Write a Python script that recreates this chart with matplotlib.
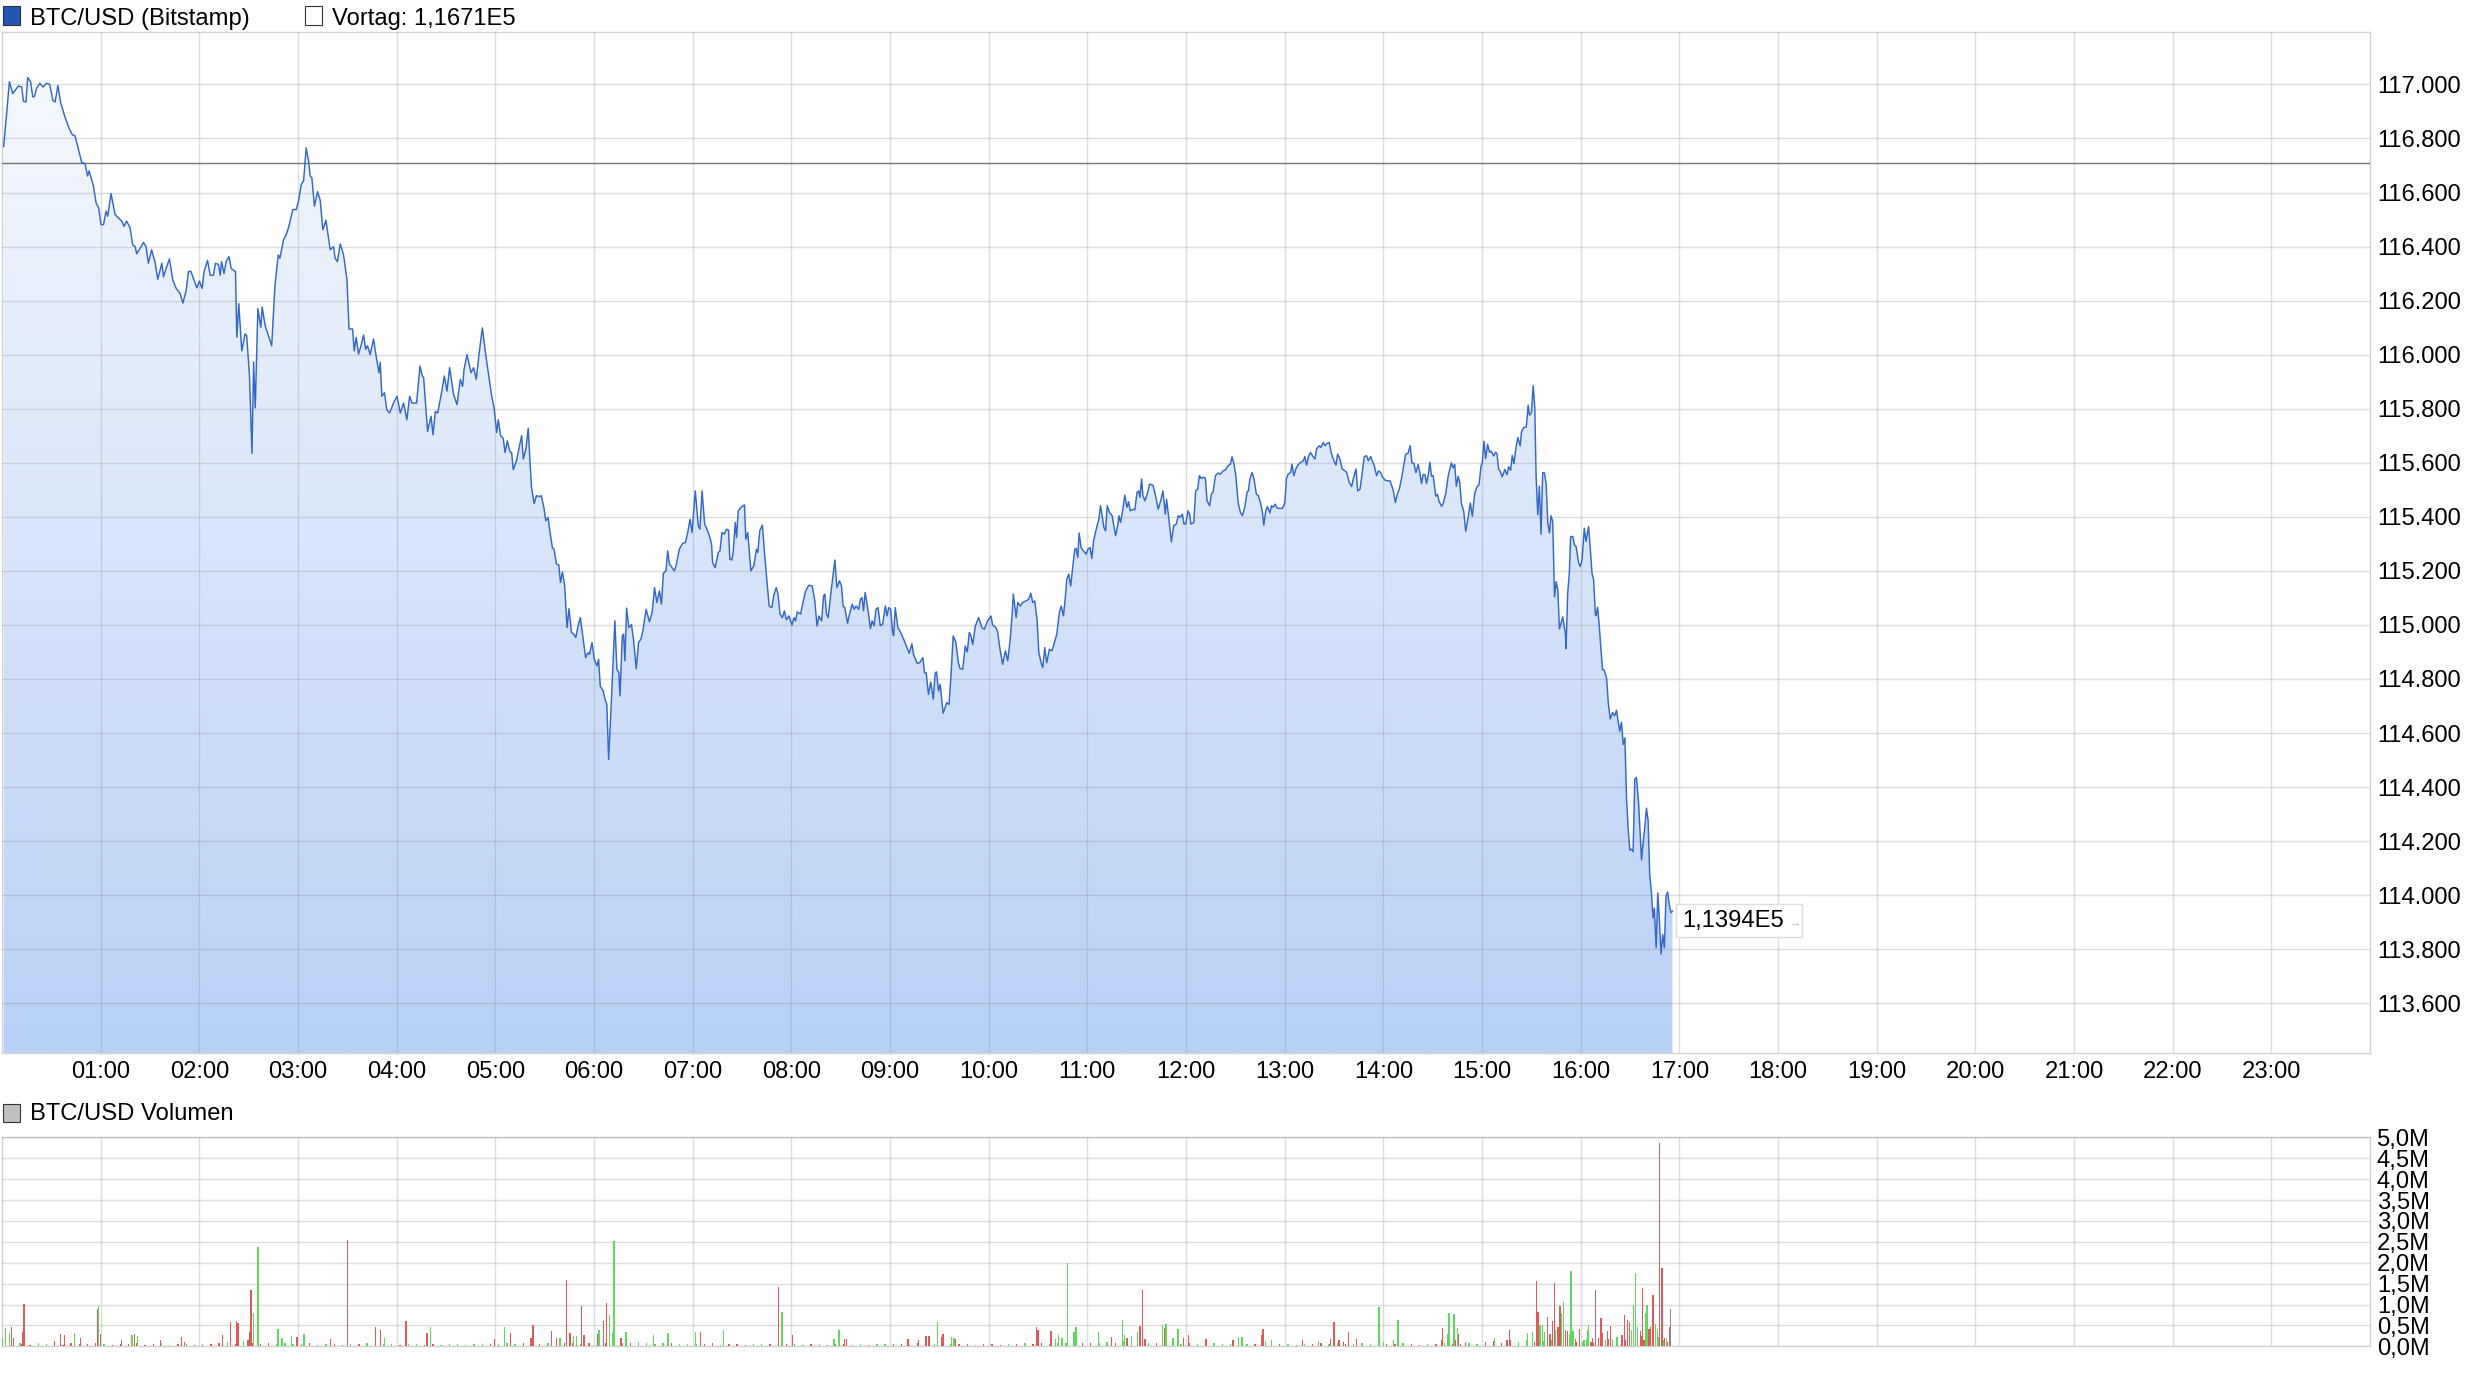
import numpy as np
import matplotlib
matplotlib.use("Agg")
import matplotlib.pyplot as plt
from matplotlib.patches import Rectangle, Polygon
from matplotlib.colors import LinearSegmentedColormap

plt.rcParams['font.family'] = ['Liberation Sans', 'DejaVu Sans']

# ---------------- data ----------------
title_price = "BTC/USD (Bitstamp)"
title_prev = "Vortag: 1,1671E5"
title_volume = "BTC/USD Volumen"
prev_close = 116710
last_label = "1,1394E5"

hour_ticks = list(range(60, 1440, 60))
hour_labels = ["%02d:00" % h for h in range(1, 24)]
price_ticks = list(range(113600, 117001, 200))
volume_ticks = [0.0, 0.5, 1.0, 1.5, 2.0, 2.5, 3.0, 3.5, 4.0, 4.5, 5.0]

# minutes after midnight
price_time = [
1,3,4.5,6.5,10,12,13,14.6,15.6,17.4,18.7,19.7,21,23,25,27,29,31,32.3,34,35.7,38.3,40.8,42.8,44.4,46.4,48.5,50.5,52,53,
55.6,57.2,58.8,60.2,61.7,63.3,64.3,66.3,68.8,70.8,72.8,74.2,75.8,77.9,79.5,81,81.9,84,86,87.6,89,91,93,94.7,97.2,98.2,99.8,101.8,103.9,105.9,
108.3,110,112,113.4,114.8,116.4,118.5,120,121.7,122.9,125,126.6,128.6,129.8,131.6,132.7,133.5,135,136.3,138,139.4,142,142.8,144,145.8,147.8,148.8,150.5,152,153,
154,155.6,157.4,158.2,160,162,164,166,168,169,171.2,172.8,174.2,176.9,178.9,180.3,182,183.4,185,186.4,187.4,188.4,190,191.9,193.5,195.1,197,199.6,201.6,202.6,
204,205.7,207.7,209.8,211,213.2,214.2,215.4,216.8,218.3,219.9,221.1,222.3,223.9,225.9,227.5,229.2,230,231,232.6,234,235.7,238.1,240.2,242.2,244.2,246.2,247.9,249.3,252.1,
254.2,255.6,256.4,258.8,260.9,262.1,263.5,264.9,266.9,269,270.6,272.2,274.6,276.7,278.7,280.1,281,282.8,285.2,286.8,288.4,290.1,292.1,294.1,296,297.8,299.2,300.8,301.8,303.2,
304.8,305.9,307.3,308.9,309.9,310.9,312.9,314.5,316,317,318.6,320,321,322,323.6,325,327,328,329.5,330.7,332.1,333.1,334.7,335.7,337.2,338.6,339.6,340.8,342.2,343.6,
344.8,346.3,347.7,348.9,350.3,351.7,353.3,354.9,356.3,357.3,358.8,360.2,361.8,362.8,363.8,365.5,367,367.8,368.9,370.7,372.7,373.9,375.1,375.8,377.2,378,378.8,379.8,381.2,382.8,
384,385.7,387.1,388.5,389.7,391.7,393.7,395.4,396.8,398.2,399.8,401,402.2,403.8,404.8,405.9,407.5,408.9,409.9,411.9,413.9,415.6,417,418.4,419.6,421.6,423.4,424.4,425.7,427.3,
430.1,431.5,432.1,433.7,435.6,436.6,437.8,439.2,440.6,441.8,442.6,443.8,444.6,445.9,446.7,447.7,449.3,451.5,452.3,453.5,455.4,457.2,458.8,459.6,460.8,462.4,464,465.4,466.5,468.1,
469.5,470.9,471.9,473.1,474.5,475.8,477,478.6,480.4,481.6,482.6,483.6,485.6,487.1,488.7,490.7,492.7,494.3,495.6,496.8,498.4,499.6,500.4,501.4,502.4,504.2,506.5,507.7,509.3,510.5,
511.5,512.5,514.2,515.4,517,518.2,519.4,521,522,523,523.9,524.9,526.7,528.1,529.1,530.3,531.5,532.7,534.1,535.5,537.2,538.2,539.2,540.4,541.6,542.2,543.2,544.8,546.5,548.3,
550.3,551.7,553.3,554.3,556.5,558,560,561,562,563.4,564.8,566.3,567.5,568.3,569.5,570.5,572.3,574.5,575.9,577.2,578.4,580,581.6,582.6,584.2,585.8,587,588.2,589.2,590.3,
591.9,593.9,595.9,597.3,599.4,601.4,602.4,604.5,605.5,606.9,608.5,610.2,611.6,613,614.2,615,616.7,617.7,619.3,620.7,622.7,624.4,625.6,626.8,628,629.4,630.5,631.9,632.9,634.1,
635.3,636.9,638.5,640,641.4,643,644.1,645.5,646.7,647.5,648.7,649.9,651.2,652.4,653.2,654.2,655,656.2,657.6,659.3,660.3,661.7,662.7,663.8,665.4,667,668,669,670.1,671.1,
672.1,673.5,675.1,676.1,677.2,678.6,679.2,680.2,681.6,682.8,684.1,685.1,686.1,687.7,688.9,690.2,691.2,692,693,693.8,695,696.4,697.9,699.9,701.5,703.1,704.6,706,707.4,708.2,
709.6,711.1,712.5,714.1,715.3,716.5,717.8,718.8,719.8,721.2,722.2,723,724.7,725.9,727.1,728.1,729.3,730.4,731.8,732.8,734.4,735.4,736.4,737.9,739.5,740.9,742.5,743.9,745.6,747,
748,749.2,750.3,751.7,753.1,754.3,755.7,757.2,758,758.8,760.2,761.4,762.8,764,765.5,766.5,767.3,768.5,769.5,771,772,773,774.2,775.4,777,778.7,780.1,781.1,782.1,783.6,
784.4,785.6,786.8,788.2,789.6,791.3,792.3,793.3,794.5,795.7,796.9,798.4,799.4,801,802,803.5,804.5,805.9,807.1,808.5,810,811.2,812.2,813.6,815,816.7,817.7,819.3,820.7,821.7,
823.4,824.4,825.8,827,828.4,829.8,830.9,832.3,833.5,834.5,835.9,837.1,838.4,839.6,841,842.6,844.1,845.1,846.1,847.3,848.5,849.7,851.2,852.2,853.6,855,856.3,857.4,858.6,859.8,
861.2,862.2,863.2,864.2,865.3,866.3,867.5,868.3,869.3,870.3,871.9,872.9,873.9,875.4,876.4,878,879.4,881.4,882.4,883.4,884.4,885.5,886.5,887.5,888.9,890.1,891.5,892.9,894.1,895.6,
897,898.2,899.4,900.2,901.2,902.2,903.4,904.6,905.6,907.1,908.3,909.1,910.1,911.1,912.3,913.9,915.2,916.2,917.4,918.4,919.4,920.8,921.8,923.2,924,925.3,926.9,928.1,928.9,930.1,
931.1,932.1,932.9,933.9,934.9,935.9,936.9,937.9,939,940,941,942,943,944.1,945.1,946.1,947.1,949.1,950.7,951.1,952.1,953.1,953.9,955.2,956.2,957.2,958.8,959.8,960.8,962.2,
963.2,964.8,965.9,966.9,967.9,968.9,969.3,970.3,971.3,972.3,973.3,974.3,975.8,976.8,978,979.4,980.6,981.8,982.8,983.8,984.8,985.9,986.9,987.9,988.9,989.9,990.9,991.9,992.9,993.9,
995.2,996,997,998,999,1000,1001,1002,1003,1004,1004.8,1005.9,1006.9,1007.9,1008.9,1009.9,1010.9,1011.9,1012.9,1013.9,1014.9,1015.8]

price_usd = [
116770,116904,117010,116966,116994,116990,116938,116935,117025,117010,116954,116955,116985,117004,116990,117004,117000,116940,116935,116996,116932,116879,116838,116813,116810,116761,116711,116707,116661,116680,
116624,116562,116543,116481,116481,116531,116512,116596,116518,116506,116494,116475,116494,116469,116406,116400,116373,116394,116415,116400,116338,116388,116344,116279,116338,116288,116319,116354,116276,116245,
116226,116191,116238,116307,116309,116282,116247,116272,116245,116307,116349,116294,116294,116338,116334,116294,116344,116300,116344,116363,116319,116307,116064,116189,116014,116077,116070,115921,115635,115973,
115803,116170,116101,116176,116108,116070,116033,116257,116369,116357,116425,116444,116469,116537,116537,116568,116630,116643,116765,116718,116661,116655,116549,116603,116571,116462,116497,116388,116400,116357,
116344,116410,116369,116276,116095,116095,116014,116064,116002,116033,116073,116020,116033,116000,116058,115996,115933,115971,115846,115859,115796,115784,115821,115846,115784,115821,115759,115846,115821,115821,
115958,115921,115915,115716,115772,115703,115790,115784,115846,115921,115865,115952,115853,115815,115908,115883,115946,116000,115933,115952,115908,116002,116099,116002,115921,115846,115805,115712,115759,115700,
115690,115638,115681,115640,115638,115574,115608,115657,115700,115614,115651,115728,115614,115509,115449,115478,115475,115478,115435,115385,115398,115348,115286,115280,115225,115222,115157,115196,115144,114990,
115060,114972,114966,114953,114996,115027,114953,114879,114897,114891,114935,114873,114848,114873,114774,114756,114719,114707,114502,114737,115015,114836,114824,114737,114960,114966,114867,115062,114990,115001,
114947,114838,114935,114947,114978,115058,115011,115048,115138,115083,115126,115077,115191,115200,115274,115225,115212,115200,115219,115280,115302,115305,115342,115391,115342,115496,115367,115354,115496,115373,
115332,115299,115231,115212,115268,115274,115342,115336,115354,115351,115243,115240,115268,115379,115323,115422,115435,115444,115317,115342,115200,115219,115280,115268,115348,115369,115243,115144,115070,115064,
115114,115138,115114,115040,115027,115052,115019,115033,114999,115027,115015,115048,115040,115083,115126,115147,115144,115089,114996,115033,115015,115107,115114,115040,115027,115126,115240,115138,115163,115144,
115070,115064,115006,115040,115077,115058,115070,115058,115095,115101,115052,115120,115052,114986,115015,114997,115058,115064,114997,115003,115070,115033,115064,115058,114972,114960,115064,114990,114972,114947,
114916,114895,114930,114891,114858,114860,114879,114823,114823,114743,114789,114725,114823,114826,114756,114780,114673,114712,114706,114823,114959,114936,114860,114838,114836,114922,114900,114972,114960,114928,
114996,115027,114990,114984,115015,115033,115000,114990,114972,114910,114854,114904,114867,114941,115033,115114,115027,115083,115070,115083,115089,115095,115117,115083,115089,115021,114898,114860,114842,114916,
114860,114910,114904,114935,114965,115046,115070,115033,115107,115169,115188,115144,115218,115280,115283,115249,115340,115286,115274,115262,115280,115286,115246,115311,115354,115391,115441,115404,115360,115348,
115441,115416,115404,115367,115330,115373,115404,115379,115428,115480,115435,115456,115422,115428,115426,115490,115496,115472,115540,115478,115459,115484,115521,115517,115478,115428,115459,115496,115410,115465,
115391,115307,115367,115373,115404,115398,115410,115373,115373,115422,115410,115373,115379,115496,115502,115552,115542,115546,115543,115459,115441,115484,115490,115552,115562,115558,115570,115573,115589,115595,
115622,115595,115552,115453,115416,115404,115435,115493,115496,115539,115564,115539,115484,115478,115447,115416,115369,115422,115438,115414,115441,115435,115447,115432,115431,115431,115453,115542,115558,115564,
115595,115552,115577,115593,115601,115607,115623,115591,115623,115638,115626,115614,115651,115663,115657,115675,115663,115672,115675,115632,115607,115591,115632,115614,115577,115570,115564,115527,115512,115539,
115577,115496,115502,115554,115623,115626,115607,115623,115604,115589,115552,115570,115564,115546,115536,115533,115533,115515,115496,115453,115484,115502,115546,115583,115632,115635,115663,115600,115598,115563,
115594,115563,115523,115556,115556,115523,115562,115602,115550,115553,115476,115483,115457,115439,115449,115488,115550,115600,115581,115594,115513,115550,115525,115449,115420,115346,115395,115451,115402,115488,
115511,115519,115587,115600,115680,115615,115668,115639,115643,115625,115639,115634,115577,115568,115548,115575,115556,115585,115572,115627,115597,115662,115693,115662,115714,115730,115732,115813,115776,115786,
115885,115804,115550,115408,115513,115336,115563,115563,115523,115377,115340,115404,115383,115104,115160,115129,114985,115030,114968,114912,115117,115191,115327,115327,115296,115290,115228,115216,115240,115358,
115309,115364,115278,115191,115166,115042,115034,115065,114998,114912,114835,114833,114802,114710,114652,114676,114664,114684,114643,114607,114640,114558,114582,114356,114246,114167,114170,114161,114429,114436,
114344,114246,114130,114197,114252,114322,114277,114075,114014,113916,113951,113806,114008,113904,113782,113855,113806,113996,114012,113965,113935,113941]

# volume: larger bars (minute, millions, direction u=up d=down n=neutral)
vol_time = [0.5,2.3,4.7,5.8,7,11,12.6,13.4,32,35.7,37.8,44,47.6,58,58.8,59.8,72.7,79,80.7,82.5,96.4,109,111,134,139,142.4,143.5,149.5,150.8,151.5,
152.9,155.7,167.9,170.3,175.9,179.4,183.6,199.6,210,227.2,230.3,232.5,245.6,258.5,260.6,299.7,305.6,309.1,321.6,323,334.2,337,339.4,343.3,345.4,347.5,349.2,352.3,354,362,
363.1,365.9,367.7,369.4,371.2,372.2,376.4,379.5,396.3,405,421.7,424.9,438.8,472.3,474.4,480.6,506,508.9,512.3,513.4,
550.9,557.5,561.8,563.7,569,571.6,572.3,577.6,578.9,579.9,629,630,637.9,640.5,642.5,644.5,648.1,651.8,653.1,666.9,674.9,681.4,682.4,684.1,686.7,690.7,692,693.6,695,705.8,
707.2,707.8,712.1,715.1,718.4,721.7,732.2,748.6,752,754,766.2,766.8,768.5,772.1,790.9,800.5,808,810,813,815.6,818.9,823.5,837.4,840,846,848.9,875.7,876,879.3,879.9,
882.9,884,885.2,885.8,890.1,907.6,915.2,916.9,927.7,930.7,933.3,934,935.3,936.6,937.9,939.9,941.3,942.9,944.2,944.9,946.2,947.5,948.5,949.5,950.8,951.8,953.1,954.1,955.4,957.4,
959.1,961.4,963.4,964.3,964.9,966.2,967.5,969,971,972.3,973,975.2,976.2,978.1,979.5,982.4,985.1,986.7,988.3,989.9,990.9,992.3,993.3,994.6,996.3,997.6,998.6,999.3,1000.3,1001.6,
1002.6,1003.9,1005.3,1006.6,1007.9,1009.5,1010.2,1010.8,1012.8,1014.4,1014.8]
vol_mio = [0.19,0.43,0.31,0.45,0.2,0.09,0.35,1.01,0.13,0.3,0.26,0.33,0.21,0.9,0.96,0.3,0.15,0.27,0.3,0.25,0.15,0.22,0.11,0.27,0.59,0.61,0.55,0.15,0.35,1.35,
0.8,2.38,0.41,0.19,0.25,0.23,0.3,0.18,2.54,0.47,0.39,0.2,0.61,0.33,0.46,0.18,0.47,0.33,0.2,0.51,0.37,0.21,0.21,1.59,0.31,0.25,0.25,0.96,0.27,0.3,
0.39,0.61,1.04,0.75,0.31,2.52,0.19,0.35,0.27,0.33,0.35,0.35,0.39,1.43,0.83,0.26,0.18,0.39,0.17,0.18,
0.18,0.14,0.25,0.25,0.58,0.23,0.3,0.23,0.19,0.17,0.47,0.39,0.37,0.17,0.27,0.2,2.0,0.35,0.45,0.35,0.22,0.63,0.28,0.2,0.25,0.34,0.49,1.35,0.18,0.51,
0.44,0.53,0.2,0.41,0.19,0.27,0.18,0.14,0.22,0.23,0.27,0.41,0.12,0.15,0.15,0.13,0.17,0.58,0.15,0.1,0.34,0.17,0.94,0.1,0.15,0.63,0.15,0.44,0.3,0.8,
0.77,0.15,0.44,0.3,0.1,0.2,0.14,0.39,0.32,0.35,1.57,0.83,0.51,0.51,0.35,0.7,0.3,0.61,1.52,0.4,0.47,0.96,0.8,1.06,0.39,0.37,0.3,1.8,0.37,0.11,
0.41,0.11,0.18,0.39,0.51,0.1,0.07,1.35,0.2,0.68,0.33,0.14,0.37,0.49,0.17,0.09,0.27,0.75,0.63,0.59,0.39,0.99,1.75,0.45,0.37,1.4,0.14,0.79,0.99,0.41,
0.47,1.23,0.53,0.39,4.87,1.87,0.15,0.19,0.11,0.45,0.89]
vol_dir = list(
    "uuuddudddddudduddudu" "dddddddddd"
    "uuuuudu" "dddd" "u" "dd" "u" "d" "u" "ddddd" "u" "dd" "uu" "ddd"
    "u" "dd" "uuu" "d" "uuuu" "d" "u" "d" "u" "d" "uu" "dd"
    "ddddudduuddddu" "uuuuuuduuduudddu"
    "duuuddddu" "uddu" "udu" "dddddd" "uuuu" "dd" "uu"
    "udud" "dudduudduuudddd" "udduudduuud"
    "duuuudddddd" "udduu" "dddd" "uuuu" "dddu" "ud"
    "dduuddud" "ddn")

# small background volume, one reading every 5 minutes from 00:02
grass_time = list(range(2, 1016, 5))
grass_mio = [
0.06,0.1,0.05,0.04,0.08,0.05,0.06,0.04,0.07,0.05,0.06,0.08,
0.05,0.04,0.06,0.05,0.09,0.04,0.05,0.07,0.04,0.06,0.05,0.04,
0.06,0.05,0.08,0.1,0.06,0.12,0.07,0.05,0.09,0.06,0.08,0.05,
0.05,0.07,0.04,0.06,0.05,0.04,0.06,0.05,0.07,0.04,0.05,0.06,
0.04,0.05,0.06,0.04,0.05,0.04,0.06,0.05,0.04,0.05,0.06,0.05,
0.06,0.08,0.05,0.07,0.1,0.06,0.08,0.05,0.09,0.07,0.06,0.08,
0.1,0.08,0.12,0.09,0.07,0.1,0.08,0.06,0.09,0.07,0.06,0.05,
0.06,0.05,0.07,0.04,0.05,0.06,0.04,0.05,0.06,0.05,0.04,0.05,
0.05,0.04,0.06,0.05,0.04,0.05,0.06,0.04,0.05,0.04,0.06,0.05,
0.05,0.06,0.04,0.07,0.05,0.06,0.04,0.05,0.06,0.05,0.04,0.06,
0.05,0.04,0.06,0.05,0.07,0.05,0.08,0.06,0.09,0.07,0.1,0.08,
0.09,0.07,0.1,0.08,0.12,0.1,0.08,0.09,0.07,0.1,0.08,0.06,
0.07,0.05,0.06,0.08,0.05,0.06,0.04,0.05,0.06,0.04,0.05,0.06,
0.05,0.04,0.06,0.05,0.08,0.06,0.07,0.05,0.06,0.08,0.05,0.06,
0.06,0.05,0.07,0.05,0.04,0.06,0.05,0.07,0.06,0.05,0.08,0.06,
0.1,0.12,0.09,0.15,0.11,0.14,0.1,0.13,0.16,0.12,0.15,0.18,
0.15,0.2,0.14,0.18,0.22,0.16,0.2,0.25,0.18,0.22,0.2]

# ---------------- figure ----------------
W, H = 2467, 1373
fig = plt.figure(figsize=(W / 100, H / 100), dpi=100)
fig.patch.set_facecolor("white")


def rect(l, t, r, b):
    return [l / W, 1 - b / H, (r - l) / W, (b - t) / H]


ax = fig.add_axes(rect(2, 31.7, 2370, 1053))
axv = fig.add_axes(rect(2, 1137.3, 2370, 1346.3))

GRID = dict(color="#8a8a8a", alpha=0.28, lw=1.0)
SPINE = "#d2d2d2"
LINE = "#3467c8"
UP, DOWN, NEUTRAL = "#5fd85f", "#dc5a5a", "#8a8a8a"
FS = 17.1

t = np.array(price_time, dtype=float)
p = np.array(price_usd, dtype=float)
ylo, yhi = 113416, 117195

ax.set_xlim(0, 1440)
ax.set_ylim(ylo, yhi)

# gradient area fill
cmap = LinearSegmentedColormap.from_list("g", ["#f8faff", "#b8d0f6"])
grad = np.linspace(0, 1, 512).reshape(-1, 1)
im = ax.imshow(grad, extent=[0, 1440, ylo, yhi], origin="upper", aspect="auto",
               cmap=cmap, zorder=1, interpolation="bilinear")
verts = np.column_stack([np.r_[t[0], t, t[-1]], np.r_[ylo, p, ylo]])
poly = Polygon(verts, closed=True, facecolor="none", edgecolor="none", transform=ax.transData)
ax.add_patch(poly)
im.set_clip_path(poly)

ax.plot(t, p, color=LINE, lw=1.05, zorder=5, solid_joinstyle="round")
ax.axhline(prev_close, color="#767676", lw=1.0, zorder=4)

for a in (ax, axv):
    a.set_xticks(hour_ticks)
    a.grid(True, zorder=3, **GRID)
    a.set_axisbelow(False)
    for s in a.spines.values():
        s.set_color(SPINE)
        s.set_linewidth(1.0)
    a.yaxis.tick_right()
    a.tick_params(axis="both", length=0, labelsize=FS, colors="black")
    a.tick_params(axis="y", pad=5)

ax.set_xticklabels(hour_labels)
ax.tick_params(axis="x", pad=6)
ax.set_yticks(price_ticks)
ax.set_yticklabels(["%.3f" % (v / 1000) for v in price_ticks])
for lab in ax.get_yticklabels():
    lab.set_horizontalalignment("left")

# volume panel
axv.set_xlim(0, 1440)
axv.set_ylim(0, 5.0)
axv.set_yticks(volume_ticks)
axv.set_yticklabels([("%.1fM" % v).replace(".", ",") for v in volume_ticks])
axv.set_xticklabels([])

gt = np.array(grass_time, dtype=float)
gdir = np.interp(gt, t, p) - np.interp(gt - 1, t, p)
gcol = [UP if d >= 0 else DOWN for d in gdir]
axv.bar(gt, grass_mio, width=0.8, color=gcol, linewidth=0, zorder=4)
cmap_dir = {"u": UP, "d": DOWN, "n": NEUTRAL}
dirs = (vol_dir + ["d"] * len(vol_time))[:len(vol_time)]
vcol = [cmap_dir[d] for d in dirs]
axv.bar(vol_time, vol_mio, width=0.8, color=vcol, linewidth=0, zorder=4)

# legends
fig.add_artist(Rectangle((3 / W, 1 - 25 / H), 17 / W, 19 / H, transform=fig.transFigure,
                         facecolor="#2357b5", edgecolor="#333333", lw=0.8))
fig.text(30 / W, 1 - 24.5 / H, title_price, fontsize=FS, va="baseline", ha="left")
fig.add_artist(Rectangle((305 / W, 1 - 25 / H), 17 / W, 19 / H, transform=fig.transFigure,
                         facecolor="white", edgecolor="#333333", lw=0.8))
fig.text(332 / W, 1 - 24.5 / H, title_prev, fontsize=FS, va="baseline", ha="left")
fig.add_artist(Rectangle((3 / W, 1 - 1122 / H), 17 / W, 18 / H, transform=fig.transFigure,
                         facecolor="#c0c0c0", edgecolor="#333333", lw=0.8))
fig.text(30 / W, 1 - 1120.5 / H, title_volume, fontsize=FS, va="baseline", ha="left")

# last value label
fig.canvas.draw()
xl, yl = ax.transData.transform((t[-1], p[-1]))
fig.add_artist(Rectangle(((xl + 4) / W, (yl - 26) / H), 126 / W, 33 / H, transform=fig.transFigure,
                         facecolor="white", edgecolor="#dddddd", lw=1.0, zorder=10))
fig.text((xl + 10) / W, (yl - 10) / H, last_label, fontsize=FS, va="center", ha="left", zorder=11)
fig.text((xl + 117) / W, (yl - 11) / H, "\u2192", fontsize=8, color="#b0b0b0", va="center", ha="left", zorder=11)

fig.savefig("out.png", dpi=100, facecolor="white")
